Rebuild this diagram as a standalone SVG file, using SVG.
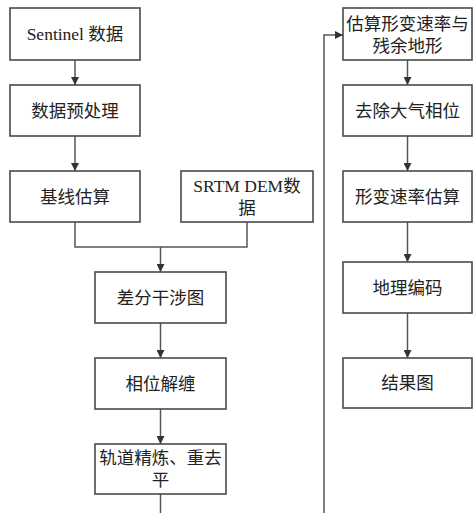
<svg xmlns="http://www.w3.org/2000/svg" width="474" height="513" viewBox="0 0 474 513">
<defs>
<marker id="ah" viewBox="0 0 10 10" refX="10" refY="5" markerWidth="8" markerHeight="8" markerUnits="userSpaceOnUse" orient="auto">
<path d="M0,0 L10,5 L0,10 Z" fill="#333"/>
</marker>
<style>
.box{fill:#fff;stroke:#4a4a4a;stroke-width:1.6}
.t{font-family:"Liberation Serif","Noto Sans CJK SC",serif;font-size:17.5px;fill:#222;text-anchor:middle;dominant-baseline:central}
.c{fill:none;stroke:#555;stroke-width:1.5}
.a{marker-end:url(#ah)}
</style>
</defs>
<rect width="474" height="513" fill="#fff"/>
<g id="connectors">
<path class="c a" d="M75,60 V85"/>
<path class="c a" d="M75,136 V171"/>
<path class="c" d="M75,222 V247 H247 V222"/>
<path class="c a" d="M160.5,247 V272"/>
<path class="c a" d="M160.5,323 V358"/>
<path class="c a" d="M160.5,409 V444"/>
<path class="c" d="M160.5,494 V513"/>
<path class="c a" d="M324,513 V35 H343"/>
<path class="c a" d="M407.5,60 V85"/>
<path class="c a" d="M407.5,136 V171"/>
<path class="c a" d="M407.5,222 V262"/>
<path class="c a" d="M407.5,313 V358"/>
</g>
<g id="n1"><rect class="box" x="10" y="8" width="130" height="52"/><text class="t" x="75" y="34">Sentinel 数据</text></g>
<g id="n2"><rect class="box" x="10" y="85" width="130" height="51"/><text class="t" x="75" y="110.5">数据预处理</text></g>
<g id="n3"><rect class="box" x="10" y="171" width="130" height="51"/><text class="t" x="75" y="196.5">基线估算</text></g>
<g id="n4"><rect class="box" x="181" y="171" width="132" height="51"/><text class="t" x="247" y="186">SRTM DEM数</text><text class="t" x="247" y="208">据</text></g>
<g id="n5"><rect class="box" x="95" y="272" width="131" height="51"/><text class="t" x="160.5" y="297.5">差分干涉图</text></g>
<g id="n6"><rect class="box" x="95" y="358" width="131" height="51"/><text class="t" x="160.5" y="383.5">相位解缠</text></g>
<g id="n7"><rect class="box" x="95" y="444" width="131" height="50"/><text class="t" x="160.5" y="458">轨道精炼、重去</text><text class="t" x="160.5" y="480">平</text></g>
<g id="n8"><rect class="box" x="343" y="8" width="129" height="52"/><text class="t" x="407.5" y="24">估算形变速率与</text><text class="t" x="407.5" y="46">残余地形</text></g>
<g id="n9"><rect class="box" x="343" y="85" width="129" height="51"/><text class="t" x="407.5" y="110.5">去除大气相位</text></g>
<g id="n10"><rect class="box" x="343" y="171" width="129" height="51"/><text class="t" x="407.5" y="196.5">形变速率估算</text></g>
<g id="n11"><rect class="box" x="343" y="262" width="129" height="51"/><text class="t" x="407.5" y="287.5">地理编码</text></g>
<g id="n12"><rect class="box" x="343" y="358" width="129" height="50"/><text class="t" x="407.5" y="383">结果图</text></g>
</svg>
